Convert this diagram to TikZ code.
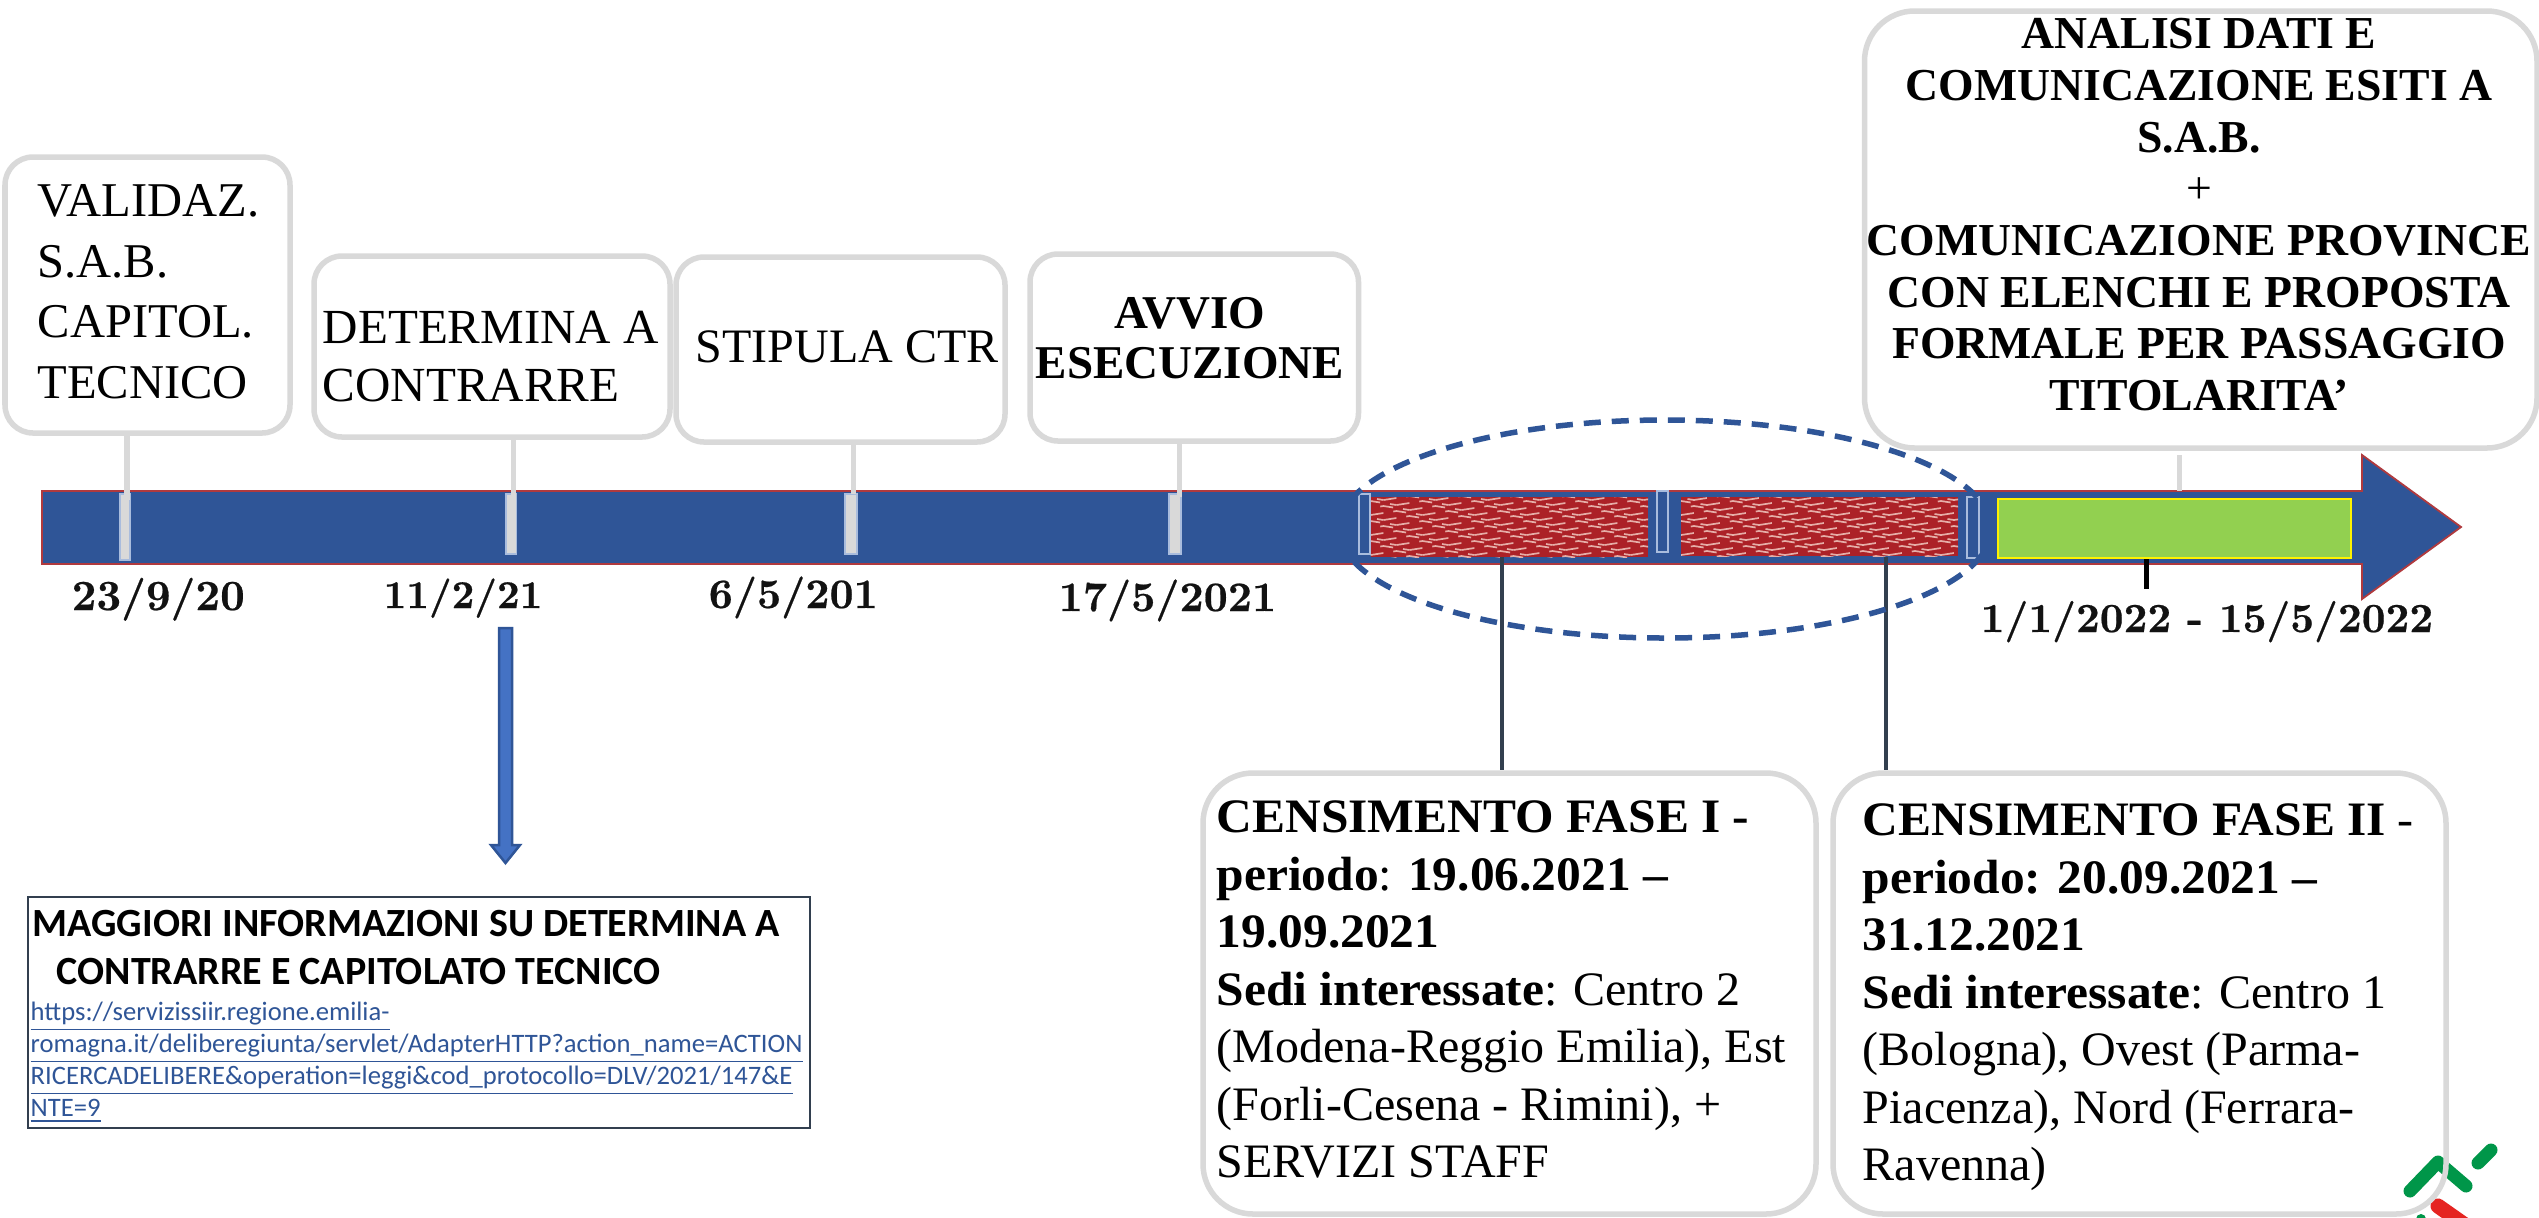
\documentclass[tikz,border=0pt]{standalone}
\usepackage{fontspec}
\setmainfont{Liberation Serif}
\newfontfamily\datefont[FakeBold=0.5]{lmroman10-bold.otf}
\newfontfamily\cambria[BoldFeatures={FakeStretch=1.03}]{Liberation Serif}
\newfontfamily\calibri{Carlito}
\newcommand\fs[2]{\edef\fa{\the\dimexpr #1pt*2845/10000\relax}\edef\fb{\the\dimexpr #2pt*2845/10000\relax}\fontsize{\fa}{\fb}\selectfont}
\definecolor{barblue}{HTML}{2F5597}
\definecolor{barred}{HTML}{B03A3E}
\definecolor{boxgrey}{HTML}{D9D9D9}
\definecolor{markline}{HTML}{A9BCDD}
\definecolor{weave}{HTML}{AC2127}
\definecolor{weavelight}{HTML}{E6AEA8}
\definecolor{leaf}{HTML}{92D050}
\definecolor{navy}{HTML}{323F4F}
\definecolor{downfill}{HTML}{4472C4}
\definecolor{logogreen}{HTML}{009649}
\definecolor{logored}{HTML}{E52421}
\tikzset{
  x=0.01cm,y=-0.01cm,
  callout/.style={draw=boxgrey,line width=0.055cm,rounded corners=0.28cm,inner sep=0pt},
  bigcallout/.style={callout,rounded corners=0.5cm},
  infobox/.style={draw=navy,line width=0.025cm,inner sep=0pt},
  ticknode/.style={fill=boxgrey,draw=markline,line width=0.012cm,inner sep=0pt},
  marknode/.style={draw=markline,line width=0.014cm,inner sep=0pt},
  redfield/.style={fill=weave,inner sep=0pt},
  greenfield/.style={fill=leaf,draw=yellow,line width=0.025cm,inner sep=0pt},
  leader/.style={draw=boxgrey,line width=0.05cm},
  darkleader/.style={draw=navy,line width=0.045cm},
  labeltext/.style={anchor=north west,inner sep=0pt,align=left},
  centertext/.style={anchor=north,inner sep=0pt,align=center},
  datetext/.style={anchor=base west,inner sep=0pt,font=\datefont\fs{#1}{48},text=black!93},
  datetext/.default=43,
  plainbox/.style={labeltext,font=\fs{49}{58}},
  validbox/.style={labeltext,font=\fs{48.5}{60.5}},
  boldcenter/.style n args={2}{centertext,font=\bfseries\fs{#1}{#2}},
  censusbox/.style={labeltext,font=\cambria\fs{48}{57.5}},
  infohead/.style={labeltext,text=black,font=\calibri\bfseries\fs{40}{48}},
  infolink/.style={labeltext,text=barblue,font=\calibri\fs{26.6}{32}},
}
\newcommand\placebox[6]{\node[#1,minimum width={(#5-#3)*0.01cm},minimum height={(#6-#4)*0.01cm}] (#2) at ({(#3+#5)/2},{(#4+#6)/2}) {};}
\newcommand\weaverows[4]{%
  \begin{scope}
    \clip (#1,#2) rectangle (#3,#4);
    \foreach \yy [count=\ii] in {0,5,...,65}{
      \pgfmathsetmacro\sh{mod(\ii,4)*13}
      \foreach \xx in {-52,0,...,290}{
        \draw[weavelight,line width=0.017cm,dash pattern=on 0.13cm off 0.1cm]
          ({#1+\xx+\sh},{#2+\yy+3}) -- ({#1+\xx+\sh+26},{#2+\yy-1}) -- ({#1+\xx+\sh+52},{#2+\yy+3});
      }
    }
  \end{scope}}
\begin{document}
\begin{tikzpicture}
\useasboundingbox[fill=white] (0,0) rectangle (2539,1217);

% main arrow
\path[fill=barblue,draw=barred,line width=0.018cm]
  (42,491) -- (2362,491) -- (2362,455) -- (2461,527) -- (2362,599) -- (2362,564) -- (42,564) -- cycle;

% fields on the bar
\placebox{redfield}{red1}{1370.5}{497}{1648}{557}
\placebox{redfield}{red2}{1681}{497}{1958}{556}
\weaverows{1370.5}{497}{1648}{557}
\weaverows{1681}{497}{1958}{556}
\placebox{greenfield}{green}{1998}{499}{2351}{558}

% markers
\placebox{ticknode}{t1}{120}{494}{130}{560}
\placebox{ticknode}{t2}{506}{494}{516.5}{554}
\placebox{ticknode}{t3}{845}{494}{857}{554}
\placebox{ticknode}{t4}{1169}{494}{1181}{554}
\placebox{marknode}{m1}{1359}{494}{1370}{554}
\placebox{marknode}{m2}{1657}{491}{1668}{552}
\placebox{marknode}{m3}{1967}{497}{1979}{558}

% logo
\draw[logogreen,line width=0.13cm,line cap=round,line join=round] (2410,1191) -- (2438,1162) -- (2466,1186);
\draw[logogreen,line width=0.13cm,line cap=round] (2478,1163) -- (2491,1150);
\draw[logored,line width=0.15cm,line cap=round] (2438,1206) -- (2475,1232);
\fill[logogreen] (2421,1219) circle (5);

% callouts
\placebox{callout}{b1}{5}{157}{290}{433}
\placebox{callout}{b2}{314}{256}{670}{437}
\placebox{callout}{b3}{676}{257}{1005}{442}
\placebox{callout}{b4}{1030}{254}{1358.5}{441}
\placebox{bigcallout}{b5}{1864.5}{11}{2537}{448}
\placebox{bigcallout}{b6}{1203}{773}{1816}{1214}
\placebox{bigcallout}{b7}{1833}{773}{2446}{1214}
\placebox{infobox}{info}{28}{897}{810}{1128}

% leaders
\coordinate (l1) at (127,500);
\draw[leader] (l1) -- (l1 |- b1.south);
\coordinate (l2) at (513,497);
\draw[leader] (l2) -- (l2 |- b2.south);
\coordinate (l3) at (853,494);
\draw[leader] (l3) -- (l3 |- b3.south);
\coordinate (l4) at (1179,497);
\draw[leader] (l4) -- (l4 |- b4.south);
\coordinate (l5) at (2179,491);
\coordinate (l5b) at (2179,455);
\draw[leader] (l5) -- (l5b);
\coordinate (d1) at (1502,557);
\draw[darkleader] (d1) -- (d1 |- b6.north);
\coordinate (d2) at (1886,557);
\draw[darkleader] (d2) -- (d2 |- b7.north);
\coordinate (g1) at (2146.5,559);
\coordinate (g2) at (2146.5,589);
\draw[black,line width=0.05cm] (g1) -- (g2);

% dashed ellipse
\draw[barblue,line width=0.055cm,dash pattern=on 0.17cm off 0.11cm] (1665,529) ellipse [x radius=326,y radius=109];

% down arrow
\path[fill=downfill,draw=barblue,line width=0.025cm]
  (499,628) -- (512,628) -- (512,845) -- (520,845) -- (505.5,863) -- (491,845) -- (499,845) -- cycle;

% texts
\node[validbox] (tb1) at (37,184) {VALIDAZ.\\S.A.B.\\CAPITOL.\\TECNICO};
\node[plainbox] (tb2) at (322,310) {DETERMINA A\\CONTRARRE};
\node[plainbox,font=\fs{48}{58}] (tb3) at (695,330) {STIPULA CTR};
\node[boldcenter={47}{50}] (tb4) at (1190,297) {AVVIO\\ESECUZIONE};
\node[boldcenter={45.7}{51.6}] (tb5) at (2199,18) {ANALISI DATI E\\COMUNICAZIONE ESITI A\\S.A.B.\\{\mdseries +}\\COMUNICAZIONE PROVINCE\\CON ELENCHI E PROPOSTA\\FORMALE PER PASSAGGIO\\TITOLARITA’};
\node[censusbox] (tb6) at (1216,800) {\textbf{CENSIMENTO FASE I -}\\\textbf{periodo}: \textbf{19.06.2021 –}\\\textbf{19.09.2021}\\\textbf{Sedi interessate}: Centro 2\\(Modena-Reggio Emilia), Est\\(Forli-Cesena - Rimini), +\\SERVIZI STAFF};
\node[censusbox] (tb7) at (1862,803) {\textbf{CENSIMENTO FASE II} -\\\textbf{periodo: 20.09.2021 –}\\\textbf{31.12.2021}\\\textbf{Sedi interessate}: Centro 1\\(Bologna), Ovest (Parma-\\Piacenza), Nord (Ferrara-\\Ravenna)};

\node[datetext] (dt1) at (71,610) {23/9/20};
\node[datetext=39.4] (dt2) at (383,608) {11/2/21};
\node[datetext=42] (dt3) at (708,608) {6/5/201};
\node[datetext=42] (dt4) at (1058,611) {17/5/2021};
\node[datetext=41.4] (dt5) at (1980,632) {1/1/2022 - 15/5/2022};

\node[infohead] (ih1) at (32,910) {MAGGIORI INFORMAZIONI SU DETERMINA A};
\node[infohead] (ih2) at (56,958) {CONTRARRE E CAPITOLATO TECNICO};
\node[infolink] (il) at (30,1001) {\underline{https://servizissiir.regione.emilia-}\\\underline{romagna.it/deliberegiunta/servlet/AdapterHTTP?action\_name=ACTION}\\\underline{RICERCADELIBERE\&operation=leggi\&cod\_protocollo=DLV/2021/147\&E}\\\underline{NTE=9}};
\end{tikzpicture}
\end{document}
